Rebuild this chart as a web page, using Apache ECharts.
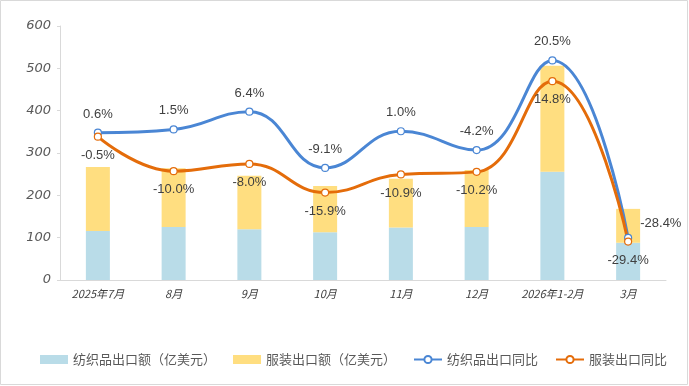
<!DOCTYPE html>
<html><head><meta charset="utf-8">
<script src="https://cdn.jsdelivr.net/npm/echarts@6/dist/echarts.min.js"></script>
<style>html,body{margin:0;padding:0;background:#fff}#c{width:689px;height:386px}</style>
</head><body><div id="c"></div>
<script>
var categories = ['2025年7月','8月','9月','10月','11月','12月','2026年1-2月','3月'];
var textileExport = [116, 125, 120, 113, 124, 125, 256, 88];
var apparelExport = [151, 139, 126, 109, 115, 135, 250, 80];
var textileYoY = [0.6, 1.5, 6.4, -9.1, 1.0, -4.2, 20.5, -28.4];
var apparelYoY = [-0.5, -10.0, -8.0, -15.9, -10.9, -10.2, 14.8, -29.4];
var yTicks = [0, 100, 200, 300, 400, 500, 600];

var chart = echarts.init(document.getElementById('c'));
function pct(v){return v.toFixed(1)+'%';}
var blueData = textileYoY.map(function(v,i){
  return i === textileYoY.length-1 ? {value:v, label:{position:'right', offset:[0,-14]}} : {value:v};
});
chart.setOption({
  animation: false,
  graphic: [{type:'rect', shape:{x:0.5,y:0.5,width:687,height:384}, style:{fill:'none', stroke:'#d9d9d9', lineWidth:1}, silent:true}],
  grid: {left: 60, right: 23, top: 26, bottom: 106},
  legend: {
    top: 348, left: 35, itemGap: 17, itemWidth: 28, itemHeight: 9,
    textStyle: {fontSize: 13, color: '#595959', fontFamily: 'Noto Sans CJK SC'},
    data: [
      {name:'纺织品出口额（亿美元）', icon:'rect'},
      {name:'服装出口额（亿美元）', icon:'rect'},
      {name:'纺织品出口同比'},
      {name:'服装出口同比'}
    ]
  },
  xAxis: {
    type: 'category', data: categories,
    axisLine: {lineStyle: {color: '#d9d9d9'}},
    axisTick: {show: false},
    axisLabel: {interval: 0, fontStyle: 'italic', color: '#404040', fontSize: 11, margin: 8, fontFamily: 'Noto Sans CJK SC'}
  },
  yAxis: [{
    type: 'value', min: yTicks[0], max: yTicks[yTicks.length-1], interval: 100,
    axisLine: {show: true, lineStyle: {color: '#d9d9d9'}},
    axisTick: {show: true, length: 3, lineStyle: {color: '#d9d9d9'}},
    splitLine: {show: false},
    axisLabel: {fontStyle: 'italic', color: '#595959', fontSize: 13, margin: 9, fontFamily: 'DejaVu Sans'}
  }, {
    type: 'value', min: -40, max: 30, show: false, splitLine: {show:false}
  }],
  series: [
    {name:'纺织品出口额（亿美元）', type:'bar', stack:'a', data: textileExport, barWidth: 24, itemStyle:{color:'#b9dce8'}},
    {name:'服装出口额（亿美元）', type:'bar', stack:'a', data: apparelExport, barWidth: 24, itemStyle:{color:'#ffde80'}},
    {name:'纺织品出口同比', type:'line', yAxisIndex:1, smooth: 0.45, data: blueData,
      symbol:'circle', symbolSize: 7, lineStyle:{color:'#4a86d4', width:3}, itemStyle:{color:'#fff', borderColor:'#4a86d4', borderWidth:1.2},
      label:{show:true, position:'top', formatter:function(p){return pct(p.value);}, distance: 8, fontSize:13, color:'#404040', fontFamily:'Liberation Sans'}},
    {name:'服装出口同比', type:'line', yAxisIndex:1, smooth: 0.45, data: apparelYoY,
      symbol:'circle', symbolSize: 7, lineStyle:{color:'#e46c0a', width:3}, itemStyle:{color:'#fff', borderColor:'#e46c0a', borderWidth:1.2},
      label:{show:true, position:'bottom', formatter:function(p){return pct(p.value);}, distance: 8, fontSize:13, color:'#404040', fontFamily:'Liberation Sans'}}
  ]
});
</script></body></html>
